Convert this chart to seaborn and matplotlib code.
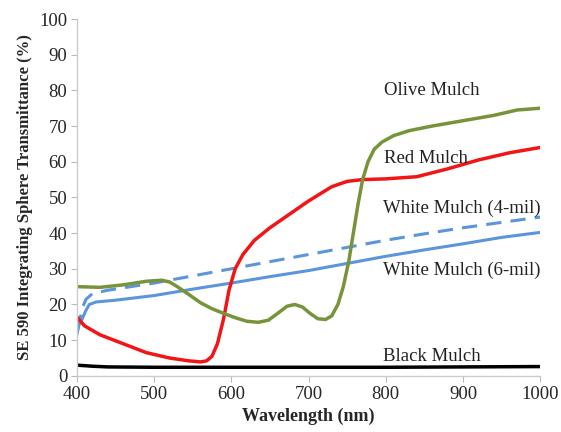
import pandas as pd
import numpy as np
import matplotlib.pyplot as plt
import seaborn as sns

# transmittance curves (wavelength in nm, % transmittance)
olive_nm = [400, 430, 460, 490, 510, 520, 530, 545, 560, 575, 590, 605, 620, 635, 648, 660, 672, 682, 692, 702, 712, 722, 730, 738, 745, 752, 758, 764, 770, 777, 785, 795, 810, 830, 860, 900, 940, 970, 1000]
olive_pct = [25, 24.8, 25.5, 26.5, 26.8, 26.3, 25, 22.8, 20.5, 18.8, 17.5, 16.3, 15.3, 15, 15.6, 17.5, 19.5, 20, 19.3, 17.5, 16, 15.8, 16.8, 20, 25, 32, 40, 48, 55, 60, 63.5, 65.5, 67.3, 68.7, 70, 71.5, 73, 74.5, 75]

red_nm = [400, 410, 430, 460, 490, 520, 545, 560, 568, 575, 582, 590, 597, 605, 615, 630, 650, 670, 700, 730, 750, 770, 800, 840, 880, 920, 960, 1000]
red_pct = [16.5, 14, 11.5, 9, 6.5, 5, 4.2, 3.9, 4.2, 5.5, 9, 16, 24, 30, 34, 38, 41.5, 44.5, 49, 53, 54.5, 55, 55.2, 55.8, 58, 60.5, 62.5, 64]

white4_nm = [400, 404, 408, 412, 420, 440, 470, 500, 550, 600, 650, 700, 750, 800, 850, 900, 950, 1000]
white4_pct = [13, 16, 19.5, 21.5, 23, 24, 25, 26, 28, 30, 32, 34, 36, 38, 39.8, 41.5, 43, 44.5]

white6_nm = [400, 403, 407, 411, 416, 425, 450, 500, 550, 600, 650, 700, 750, 800, 850, 900, 950, 1000]
white6_pct = [11.5, 14.5, 16, 18, 20, 20.7, 21.2, 22.5, 24.3, 26, 27.8, 29.5, 31.5, 33.5, 35.3, 37, 38.8, 40.2]

black_nm = [400, 420, 440, 500, 600, 700, 800, 900, 1000]
black_pct = [3, 2.7, 2.5, 2.4, 2.4, 2.4, 2.4, 2.5, 2.6]

labels = ['Olive Mulch', 'Red Mulch', 'White Mulch (4-mil)', 'White Mulch (6-mil)', 'Black Mulch']
label_x = [798, 798, 796, 797, 796]
label_y = [80, 61, 47, 29.5, 5.5]

sns.set_style('white')
plt.rcParams['font.family'] = ['Liberation Serif', 'DejaVu Serif']

fig = plt.figure(figsize=(5.61, 4.32), dpi=100)
ax = fig.add_axes([0.137, 0.13, 0.826, 0.826])

sns.lineplot(x=black_nm, y=black_pct, color='black', linewidth=2.5, ax=ax)
sns.lineplot(x=white6_nm, y=white6_pct, color='#5B95DB', linewidth=2.2, ax=ax)
sns.lineplot(x=white4_nm, y=white4_pct, color='#5B95DB', linewidth=2.2, ax=ax)
ax.lines[-1].set_dashes([5, 3])
sns.lineplot(x=red_nm, y=red_pct, color='#F21515', linewidth=2.5, ax=ax)
sns.lineplot(x=olive_nm, y=olive_pct, color='#77943A', linewidth=2.5, ax=ax)

for txt, x, y in zip(labels, label_x, label_y):
    ax.text(x, y, txt, fontsize=13.5, color='#222222', va='center', ha='left')

ax.set_xlim(400, 1000)
ax.set_ylim(0, 100)
ax.set_xticks(range(400, 1001, 100))
ax.set_yticks(range(0, 101, 10))
ax.tick_params(axis='both', labelsize=13.5, length=4, color='#BBBBBB', direction='out', pad=3, bottom=True, left=True)
for side in ['top', 'right']:
    ax.spines[side].set_visible(False)
for side in ['left', 'bottom']:
    ax.spines[side].set_color('#CCCCCC')
    ax.spines[side].set_linewidth(1)

ax.set_xlabel('Wavelength (nm)', fontsize=13, fontweight='bold')
ax.set_ylabel('SE 590 Integrating Sphere Transmittance (%)', fontsize=12, fontweight='bold')

plt.savefig('out.png', dpi=100)
